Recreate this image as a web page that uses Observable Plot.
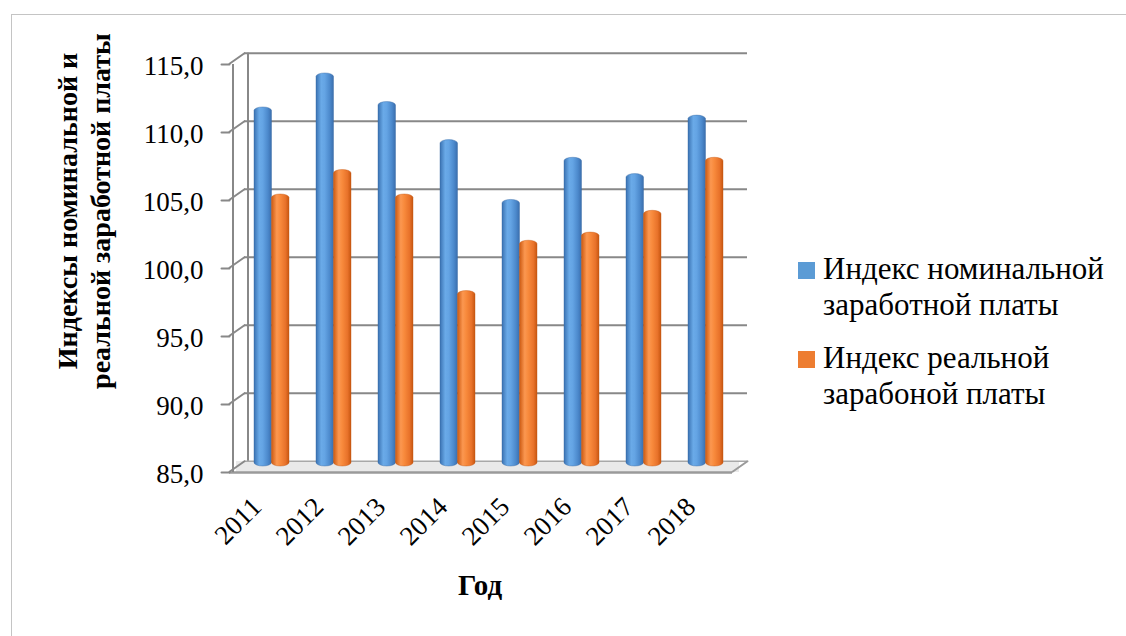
<!DOCTYPE html>
<html>
<head>
<meta charset="utf-8">
<script src="https://cdn.jsdelivr.net/npm/d3@7"></script>
<script src="https://cdn.jsdelivr.net/npm/@observablehq/plot@0.6"></script>
<style>
  body { margin: 0; background: #fff; }
  #wrap { position: relative; width: 1126px; height: 636px; overflow: hidden; font-family: "Times New Roman", "Liberation Serif", "DejaVu Serif", serif; color: #000; }
  #wrap * { font-family: "Times New Roman", "Liberation Serif", "DejaVu Serif", serif; }
  #border { position: absolute; left: 11px; top: 14px; width: 1300px; height: 800px; border: 1px solid #c4c4c4; }
  #chart { position: absolute; left: 0; top: 0; }
  .ytitle { position: absolute; left: 84px; top: 211px; transform: translate(-50%, -50%) rotate(-90deg); white-space: nowrap; font-weight: bold; font-size: 28px; line-height: 33px; text-align: center; }
  .xtitle { position: absolute; left: 480px; top: 569px; transform: translateX(-50%); font-weight: bold; font-size: 29px; line-height: 32px; white-space: nowrap; }
  .leg { position: absolute; left: 798px; font-size: 31px; line-height: 36px; white-space: nowrap; }
  .leg .sw { position: absolute; left: 0; width: 17px; height: 17px; }
  .leg .tx { position: absolute; left: 25px; top: 0; }
</style>
</head>
<body>
<div id="wrap">
  <div id="border"></div>
  <div id="chart"></div>
  <div class="ytitle" id="ytitle"></div>
  <div class="xtitle" id="xtitle"></div>
  <div id="legend"></div>
</div>
<script>
// ---- data ----
const years = ["2011", "2012", "2013", "2014", "2015", "2016", "2017", "2018"];
const nominal = [111.4, 113.9, 111.8, 109.0, 104.6, 107.7, 106.5, 110.8];
const real = [105.0, 106.8, 105.0, 97.9, 101.6, 102.2, 103.8, 107.7];
const yTicks = [85, 90, 95, 100, 105, 110, 115];
const seriesLabels = [["Индекс номинальной", "заработной платы"], ["Индекс реальной", "зарабоной платы"]];
const yTitleLines = ["Индексы номинальной и", "реальной заработной платы"];
const xTitle = "Год";
const colors = ["#5b9bd5", "#ed7d31"];

const rows = years.map((y, i) => ({year: y, nominal: nominal[i], real: real[i]}));
const fmt = d => d.toFixed(1).replace(".", ",");
const lineShape = {draw(context, l) { context.moveTo(0, 0); context.lineTo(0, -l); }};
const gridColor = "#888888";
const base = yTicks[0];
const serif = "Times New Roman, Liberation Serif, DejaVu Serif, serif";

const svg = Plot.plot({
  width: 1126,
  height: 636,
  marginTop: 58,
  marginBottom: 170,
  marginLeft: 244,
  marginRight: 379,
  style: {background: "transparent", fontFamily: serif, fontSize: "27px", color: "#000"},
  x: {type: "band", domain: years, range: [222.7, 753.4], padding: 0.443, axis: null},
  y: {domain: [85, 115], axis: null},
  marks: [
    // floor
    Plot.ruleY([base], {y: d => d, stroke: "#e9e9e9", strokeWidth: 11, insetLeft: -8, insetRight: 8}),
    Plot.ruleY([base], {y: d => d, dy: -5.3, stroke: "#a8a8a8", strokeWidth: 1.5}),
    Plot.ruleY([base], {y: d => d, dy: 6, insetLeft: -15, insetRight: 15, stroke: "#9a9a9a", strokeWidth: 2.5}),
    Plot.vector([base], {y: d => d, frameAnchor: "right", dy: -5.3, rotate: 235, length: 18.3, anchor: "start", shape: lineShape, stroke: "#9a9a9a", strokeWidth: 2}),
    // back wall gridlines
    Plot.ruleY(yTicks.slice(1), {y: d => d, dy: -5.3, stroke: gridColor, strokeWidth: 2}),
    Plot.ruleX([years[0]], {x: d => d, y1: () => 85, y2: () => 115, dx: -24, dy: -5.3, stroke: gridColor, strokeWidth: 2}),
    // connectors from back wall to front axis
    Plot.vector(yTicks, {y: d => d, frameAnchor: "left", dy: -5.3, rotate: 235, length: 18.3, anchor: "start", shape: lineShape, stroke: gridColor, strokeWidth: 2}),
    // front axis line and ticks
    Plot.ruleX([years[0]], {x: d => d, y1: () => 85, y2: () => 115, dx: -39, dy: 6, stroke: gridColor, strokeWidth: 2}),
    Plot.vector(yTicks, {y: d => d, frameAnchor: "left", dx: -15, dy: 6, rotate: 270, length: 8, anchor: "start", shape: lineShape, stroke: gridColor, strokeWidth: 2}),
    // bars
    Plot.barY(rows, {x: "year", y1: () => base, y2: "nominal", insetRight: 17.5, fill: "url(#gBlue)", rx: 8.7, ry: 3.5, stroke: "#3467a3", strokeOpacity: 0.5, strokeWidth: 0.8}),
    Plot.barY(rows, {x: "year", y1: () => base, y2: "real", insetLeft: 17.5, fill: "url(#gOrange)", rx: 8.7, ry: 3.5, stroke: "#c2560f", strokeOpacity: 0.5, strokeWidth: 0.8}),
    // y tick labels
    Plot.text(yTicks, {y: d => d, text: d => fmt(d), frameAnchor: "left", dx: -41, dy: 8, textAnchor: "end", fontSize: 27, fontFamily: serif}),
    // x tick labels
    Plot.text(years, {x: d => d, text: d => d, frameAnchor: "bottom", rotate: -45, textAnchor: "end", dx: -9, dy: 42, fontSize: 27, fontFamily: serif})
  ]
});

// gradients for cylinder look
const defs = d3.select(svg).insert("defs", ":first-child");
function grad(id, stops) {
  const g = defs.append("linearGradient").attr("id", id).attr("x1", 0).attr("x2", 1).attr("y1", 0).attr("y2", 0);
  stops.forEach(([o, c]) => g.append("stop").attr("offset", o).attr("stop-color", c));
}
grad("gBlue", [[0, "#3a72b2"], [0.3, "#6aaae8"], [0.5, "#64a4e4"], [0.8, "#4b88cb"], [1, "#3a6ead"]]);
grad("gOrange", [[0, "#cc5a12"], [0.3, "#fb9750"], [0.5, "#f88a3c"], [0.8, "#e8722a"], [1, "#c75610"]]);

document.getElementById("chart").appendChild(svg);

// titles
document.getElementById("ytitle").innerHTML = yTitleLines.join("<br>");
document.getElementById("xtitle").textContent = xTitle;

// legend
const legend = document.getElementById("legend");
const legTops = [250.5, 339.5];
seriesLabels.forEach((lines, i) => {
  const d = document.createElement("div");
  d.className = "leg";
  d.style.top = legTops[i] + "px";
  const sw = document.createElement("div");
  sw.className = "sw";
  sw.style.background = colors[i];
  sw.style.top = "11px";
  const tx = document.createElement("div");
  tx.className = "tx";
  tx.innerHTML = lines.join("<br>");
  d.appendChild(sw);
  d.appendChild(tx);
  legend.appendChild(d);
});
</script>
</body>
</html>
